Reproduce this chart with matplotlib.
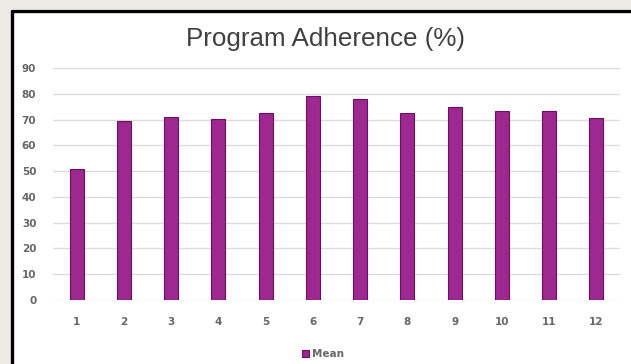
import matplotlib.pyplot as plt
from matplotlib.patches import Rectangle
from matplotlib.lines import Line2D

# weeks and mean adherence per week
weeks = ['1', '2', '3', '4', '5', '6', '7', '8', '9', '10', '11', '12']
mean_adherence = [51, 69.4, 70.8, 70.2, 72.4, 79.1, 77.9, 72.4, 74.9, 73.3, 73.3, 70.7]
y_ticks = [0, 10, 20, 30, 40, 50, 60, 70, 80, 90]

W, H = 631, 364
fig = plt.figure(figsize=(W / 100, H / 100), dpi=100)
fig.patch.set_facecolor('#ebeae5')

# white card with black left/top edge
fig.patches.append(Rectangle((11 / W, 0), 1 - 11 / W, 1 - 9 / H, transform=fig.transFigure,
                             facecolor='white', edgecolor='none', zorder=-10))
fig.lines.append(Line2D([12 / W, 12 / W], [0, 1 - 9.5 / H], transform=fig.transFigure,
                        color='black', lw=2.4, solid_capstyle='butt', zorder=-5))
fig.lines.append(Line2D([11 / W, 1], [1 - 10.5 / H, 1 - 10.5 / H], transform=fig.transFigure,
                        color='black', lw=2.4, solid_capstyle='butt', zorder=-5))

ax = fig.add_axes([53 / W, (H - 300) / H, (620 - 53) / W, (300 - 68) / H])
ax.set_facecolor('white')
ax.set_zorder(1)

x = list(range(1, len(weeks) + 1))
bars = ax.bar(x, mean_adherence, width=0.3, color='#9c2890', edgecolor='#6a0f63',
              linewidth=0.8, zorder=3, label='Mean')

ax.set_xlim(0.5, 12.5)
ax.set_ylim(0, 90)
ax.set_yticks(y_ticks)
ax.set_xticks(x)
ax.set_xticklabels(weeks)
ax.grid(axis='y', color='#dcdcdc', linewidth=1.0, zorder=0)
for s in ax.spines.values():
    s.set_visible(False)
ax.tick_params(length=0, labelsize=7.5, labelcolor='#666666')
ax.tick_params(axis='x', pad=12)
ax.tick_params(axis='y', pad=12)
for lbl in ax.get_xticklabels() + ax.get_yticklabels():
    lbl.set_fontweight('semibold')

fig.text(326 / W, 1 - 46 / H, 'Program Adherence (%)', ha='center', va='baseline',
         fontsize=18.7, color='#404040', family='Liberation Sans')

leg = fig.legend(handles=[bars], labels=['Mean'], loc='center', bbox_to_anchor=(323 / W, 1 - 354 / H),
                 frameon=False, fontsize=7.5, handlelength=0.7, handleheight=0.7, handletextpad=0.3)
for t in leg.get_texts():
    t.set_color('#666666')
    t.set_fontweight('semibold')

fig.savefig('out.png', dpi=100, facecolor=fig.get_facecolor())
